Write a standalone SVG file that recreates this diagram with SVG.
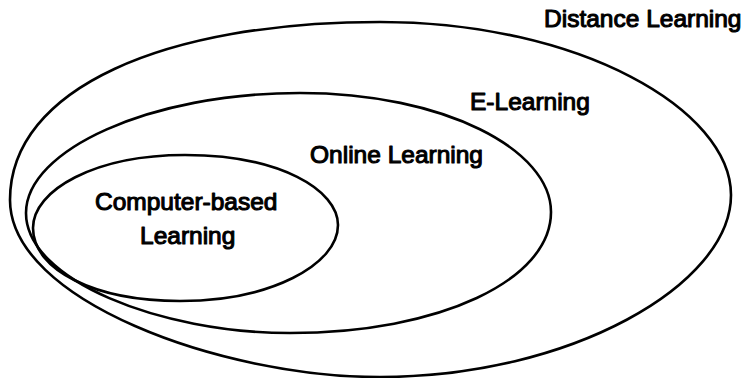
<svg xmlns="http://www.w3.org/2000/svg" width="746" height="378" viewBox="0 0 746 378">
  <style>
    .ring { fill: none; stroke: #000; stroke-width: 2.6; stroke-linejoin: round; }
    .lbl { font-family: "Liberation Sans", Arial, sans-serif; font-size: 24.5px; fill: #000; stroke: #000; stroke-width: 1.1; stroke-linejoin: round; }
  </style>
  <rect x="0" y="0" width="746" height="378" fill="#fff"/>
  <g id="distance-learning">
    <text class="lbl" x="544" y="27">Distance Learning</text>
  </g>
  <g id="e-learning">
    <path class="ring" d="M 10,200 C 10,88 165,22 380,22 C 580,22 731,110 731,195 C 731,285 570,377 380,377 C 220,377 10,300 10,200 Z"/>
    <text class="lbl" x="470" y="110">E-Learning</text>
  </g>
  <g id="online-learning">
    <path class="ring" d="M 26,213 C 26,150 150,93 300,93 C 445,93 551,150 551,212 C 551,280 440,333 290,333 C 160,333 26,280 26,213 Z"/>
    <text class="lbl" x="310" y="163">Online Learning</text>
  </g>
  <g id="computer-based-learning">
    <path class="ring" d="M 33,228 C 33,190 95,155 185,155 C 280,155 338,190 338,225 C 338,265 270,301 180,301 C 95,301 33,270 33,228 Z"/>
    <text class="lbl" x="95" y="210">Computer-based</text>
    <text class="lbl" x="140" y="244">Learning</text>
  </g>
  <g id="connectors"/>
</svg>
